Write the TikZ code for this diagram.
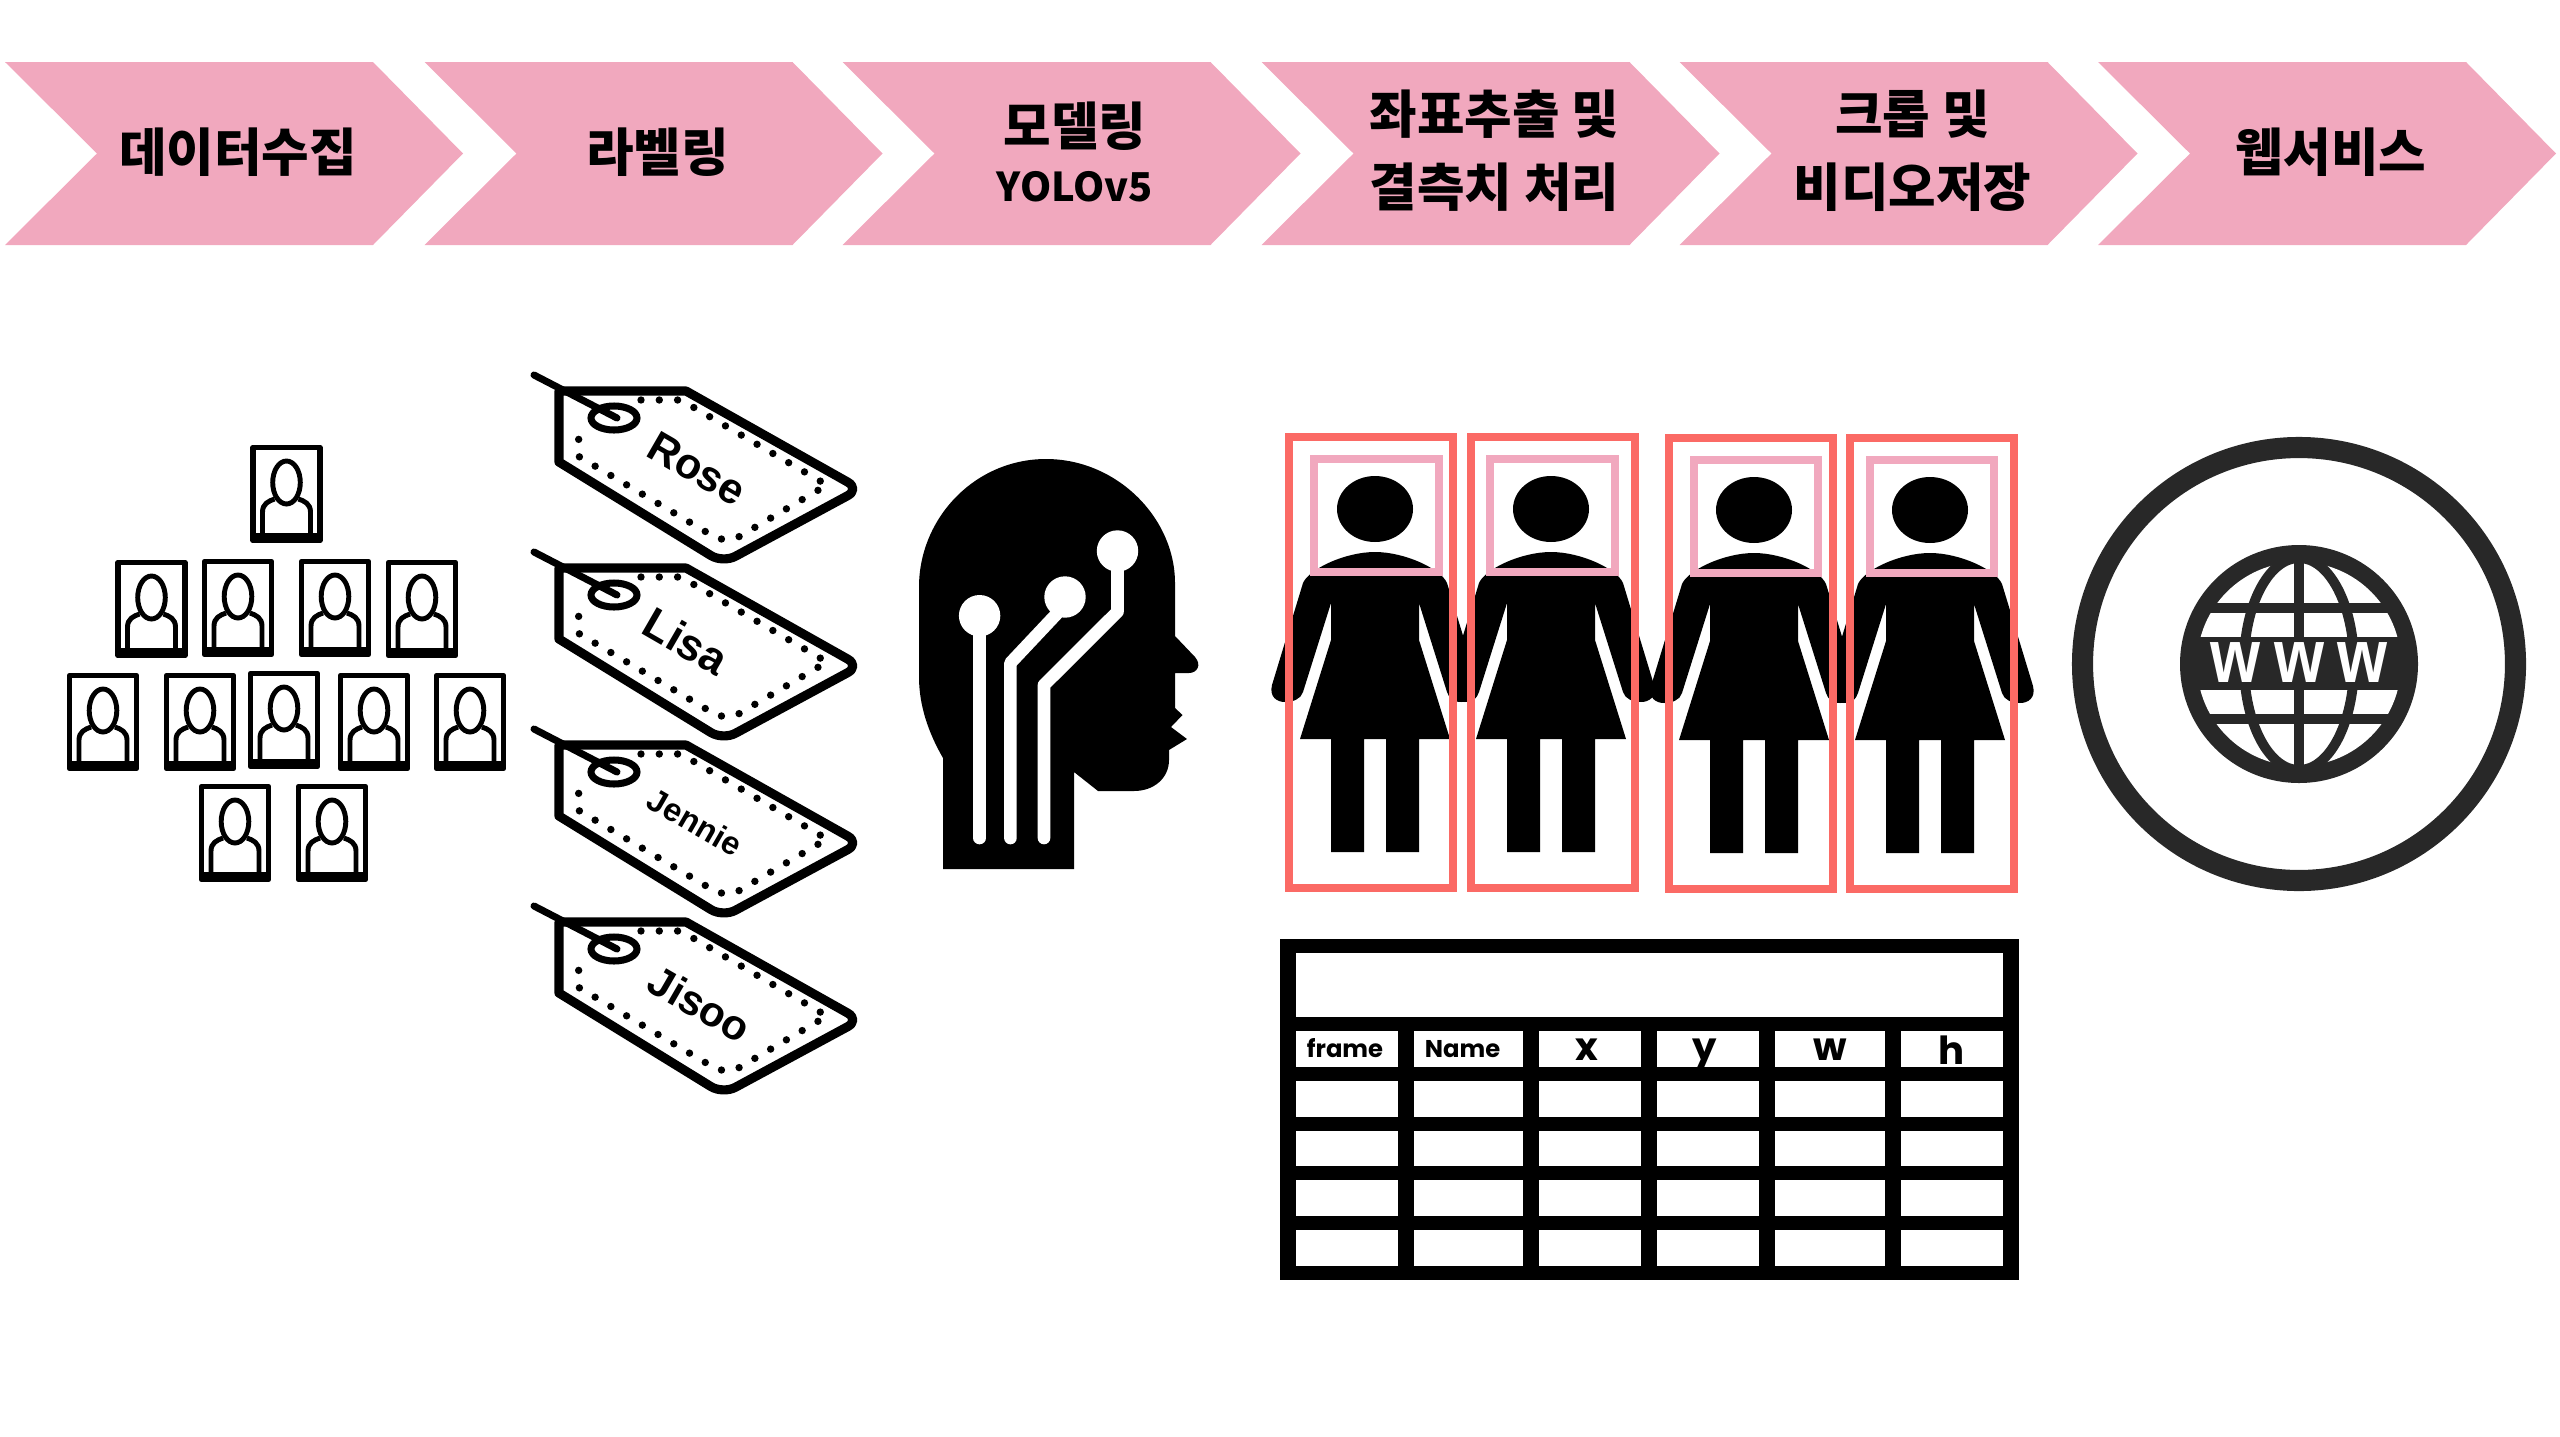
\documentclass[tikz,border=0pt]{standalone}
\usepackage{fontspec}
\setmainfont{Liberation Sans}
\newfontfamily\cjk{Noto Sans CJK KR}
\newfontfamily\headfont{Poppins}
\definecolor{stagepink}{HTML}{F1A8BE}
\definecolor{boxred}{HTML}{FB6A65}
\definecolor{globegray}{HTML}{282828}
\tikzset{
    stagetext/.style={align=center, inner sep=0pt, font=\cjk\bfseries\fontsize{14.7}{20.8}\selectfont},
    tagtext/.style={inner sep=0pt, rotate=-30, font=\bfseries\fontsize{#1}{#1}\selectfont},
    headtext/.style={inner sep=0pt, font=\headfont\bfseries\fontsize{#1}{#1}\selectfont},
    pics/chevron/.style={code={
        \fill[stagepink] (0,62) -- (368,62) -- (458,153.5) -- (368,245) -- (0,245) -- (92,153.5) -- cycle;
    }},
    pics/portrait/.style={code={
        \draw[line width=1.6pt, line join=round] (-33.5,-46.5) rectangle (33.5,46.5);
        \draw[line width=1.4pt] (0,-11.5) ellipse [x radius=13.8, y radius=21.5];
        \draw[line width=1.4pt] (-24,42) -- (-24,18) .. controls (-24,10) and (-18,7) .. (-12,5);
        \draw[line width=1.4pt] (24,42) -- (24,18) .. controls (24,10) and (18,7) .. (12,5);
        \draw[line width=1.6pt] (-33,42) -- (33,42);
    }},
    pics/pricetag/.style={code={
        \draw[line width=2.6pt, line join=round] (0,0) -- (127,0) [rounded corners=4pt] -- (301,98) -- (164,172) [sharp corners] -- (0,71) -- cycle;
        \draw[line width=2.1pt, line cap=round, dash pattern=on 0pt off 5.2pt] (82,9) -- (122,9) -- (268,94) -- (176,148) -- (159,148) -- (19,65) -- (20,40);
        \draw[line width=2pt] (55,27) ellipse [x radius=23, y radius=12];
        \draw[line width=2pt, line cap=round] (-25,-16) -- (58,27);
    }},
    pics/woman/.style={code={
        \fill (0,0) ellipse [x radius=38, y radius=33];
        \fill (-72,74) .. controls (-66,60) and (-30,43) .. (0,43) .. controls (30,43) and (66,60) .. (72,74) -- (103,176) .. controls (106,188) and (98,193) .. (90,193) .. controls (82,193) and (74,190) .. (72,183) -- (44,94) -- (44,131) -- (75,230) -- (44,230) -- (44,343) -- (11,343) -- (11,230) -- (-11,230) -- (-11,343) -- (-44,343) -- (-44,230) -- (-75,230) -- (-44,131) -- (-44,94) -- (-72,183) .. controls (-74,190) and (-82,193) .. (-90,193) .. controls (-98,193) and (-106,188) .. (-103,176) -- cycle;
    }},
}

\begin{document}
\begin{tikzpicture}[x=0.01cm, y=-0.01cm]
\useasboundingbox (0,0) rectangle (2560,1436);

\foreach \i/\sx/\ty/\txt in {1/5/152/데이터수집, 2/424.5/152/라벨링, 4/1261.5/151/{좌표추출 및\\결측치 처리}, 5/1679.5/151/{크롭 및\\비디오저장}, 6/2098/152.5/웹서비스} {
    \path (\sx,0) pic {chevron};
    \node[stagetext] (s\i) at (\sx+233,\ty) {\txt};
}
\path (842.5,0) pic {chevron};
\node[stagetext] (s3m) at (1075,126) {모델링};
\node[stagetext, font=\cjk\bfseries\fontsize{11.3}{14}\selectfont] (s3y) at (1075,187) {YOLOv5};

\foreach \px/\py in {286.5/494, 151.5/609, 238/608, 335/608, 422/609, 103/722, 200/722, 284/720, 374/722, 470/722, 235/833, 332/833} {
    \path (\px,\py) pic {portrait};
}

\foreach \i/\sz/\lx/\ly/\nm in {0/12.2/138/78/Rose, 1/12.6/127/73/Lisa, 2/9.2/136/77/Jennie, 3/12/141/82/Jisoo} {
    \coordinate (t\i) at (559,391+177*\i);
    \path (t\i) pic {pricetag};
    \path (t\i) ++ (\lx,\ly) node[tagtext=\sz] (n\i) {\nm};
}

\fill (943,869) -- (943,758) .. controls (928,732) and (919,705) .. (919,677) -- (919,587) .. controls (919,518) and (975,459) .. (1046,459) .. controls (1117,459) and (1175,518) .. (1175,583) -- (1175,636) -- (1195,657) .. controls (1202,665) and (1197,673) .. (1189,673) -- (1175,673) -- (1175,708) -- (1182.5,715) -- (1171,727) -- (1187,739) -- (1169,750) -- (1169,760) .. controls (1169,778) and (1154,791) .. (1134,791) -- (1098,791) -- (1074,772) -- (1074,869) -- cycle;
\foreach \cx/\cy in {979.6/615.7, 1065/597, 1117.5/551} {
    \fill[white] (\cx,\cy) circle [radius=20.7];
}
\draw[white, line width=3.6pt, line cap=round, line join=round] (979.6,616) -- (979.6,838);
\draw[white, line width=3.6pt, line cap=round, line join=round] (1065,605) -- (1010.4,663) -- (1010.4,838);
\draw[white, line width=3.6pt, line cap=round, line join=round] (1117.5,560) -- (1117.5,611.7) -- (1044,685) -- (1044,838);

\foreach \cx/\cy in {1375/509, 1551/509, 1754/510, 1930/510} {
    \path (\cx,\cy) pic {woman};
}
\foreach \xa/\xb/\ya/\yb in {1289/1453/437/888, 1471/1635/437/888, 1669/1833/438/889, 1850/2014/438/889} {
    \draw[boxred, line width=2.3pt] (\xa,\ya) rectangle (\xb,\yb);
}
\foreach \xa/\xb/\ya/\yb in {1314/1439/459/572, 1490/1615/459/572, 1694/1818/460/573, 1870/1994/460/573} {
    \draw[stagepink, line width=2.3pt] (\xa,\ya) rectangle (\xb,\yb);
}

\fill (1280.4,939) rectangle (2018.7,1279.5);
\fill[white] (1296.2,953) rectangle (2002.9,1017.4);
\foreach \xa/\xb in {1296.2/1397.8, 1413.6/1523.3, 1539/1641, 1657/1759, 1774.8/1885, 1900.8/2002.9} {
    \foreach \ya in {1031.4, 1081, 1130.7, 1180.4, 1230.4} {
        \fill[white] (\xa,\ya) rectangle (\xb,\ya+35.6);
    }
}
\node[headtext=6.9] (c1) at (1345,1048) {frame};
\node[headtext=6.9] (c2) at (1462.5,1049) {Name};
\node[headtext=11] (c3) at (1587,1050) {x};
\node[headtext=11] (c4) at (1705,1055) {y};
\node[headtext=11] (c5) at (1830,1050) {w};
\node[headtext=11] (c6) at (1952,1050) {h};

\draw[globegray, line width=6pt] (2299,664) circle [radius=216.5];
\fill[globegray] (2299,664) circle [radius=119];
\fill[white] (2299,664) circle [radius=102];
\begin{scope}
\clip (2299,664) circle [radius=110];
\fill[globegray] (2170,637) rectangle (2430,690);
\draw[globegray, line width=2.8pt] (2170,608) -- (2430,608);
\draw[globegray, line width=2.8pt] (2170,719) -- (2430,719);
\draw[globegray, line width=2.8pt] (2299,550) -- (2299,780);
\draw[globegray, line width=2.8pt] (2299,664) ellipse [x radius=55, y radius=106];
\end{scope}
\node[white, inner sep=0pt, font=\bfseries\fontsize{21.5}{21.5}\selectfont, xscale=.85] (www) at (2299,663) {w\hspace{4.4pt}w\hspace{4.4pt}w};
\end{tikzpicture}
\end{document}
